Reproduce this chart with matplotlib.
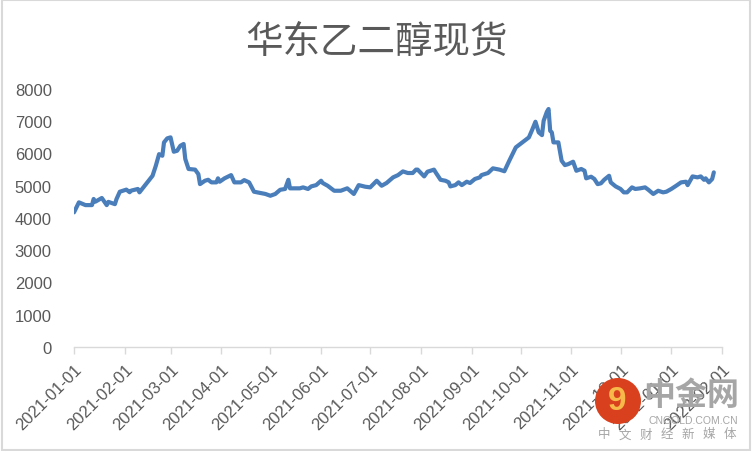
import matplotlib
matplotlib.use("Agg")
import matplotlib.pyplot as plt
import matplotlib.dates as mdates
import numpy as np
import pandas as pd
from matplotlib.patches import Rectangle, Ellipse

plt.rcParams['font.family'] = ['Liberation Sans', 'Noto Sans CJK SC', 'DejaVu Sans']

TITLE = "华东乙二醇现货"

dates = [
    "2021-01-01", "2021-01-04", "2021-01-08", "2021-01-12", "2021-01-13", "2021-01-14",
    "2021-01-18", "2021-01-21", "2021-01-22", "2021-01-26", "2021-01-27", "2021-01-29",
    "2021-02-02", "2021-02-04", "2021-02-05", "2021-02-09", "2021-02-10", "2021-02-18",
    "2021-02-20", "2021-02-22", "2021-02-24", "2021-02-25", "2021-02-27", "2021-03-01",
    "2021-03-03", "2021-03-05", "2021-03-07", "2021-03-09", "2021-03-10", "2021-03-12",
    "2021-03-16", "2021-03-18", "2021-03-19", "2021-03-22", "2021-03-24", "2021-03-26",
    "2021-03-29", "2021-03-30", "2021-03-31", "2021-04-03", "2021-04-07", "2021-04-09",
    "2021-04-13", "2021-04-15", "2021-04-18", "2021-04-21", "2021-04-25", "2021-04-28",
    "2021-05-01", "2021-05-04", "2021-05-07", "2021-05-10", "2021-05-12", "2021-05-13",
    "2021-05-17", "2021-05-19", "2021-05-21", "2021-05-24", "2021-05-26", "2021-05-29",
    "2021-06-01", "2021-06-02", "2021-06-05", "2021-06-09", "2021-06-13", "2021-06-17",
    "2021-06-21", "2021-06-24", "2021-06-28", "2021-07-01", "2021-07-05", "2021-07-08",
    "2021-07-11", "2021-07-15", "2021-07-18", "2021-07-21", "2021-07-24", "2021-07-27",
    "2021-07-29", "2021-07-30", "2021-08-03", "2021-08-05", "2021-08-09", "2021-08-10",
    "2021-08-13", "2021-08-16", "2021-08-18", "2021-08-19", "2021-08-22", "2021-08-24",
    "2021-08-26", "2021-08-29", "2021-08-31", "2021-09-03", "2021-09-06", "2021-09-07",
    "2021-09-11", "2021-09-14", "2021-09-18", "2021-09-21", "2021-09-24", "2021-09-28",
    "2021-10-02", "2021-10-06", "2021-10-08", "2021-10-10", "2021-10-12", "2021-10-14",
    "2021-10-15", "2021-10-17", "2021-10-18", "2021-10-19", "2021-10-20", "2021-10-21",
    "2021-10-24", "2021-10-26", "2021-10-28", "2021-10-30", "2021-11-02", "2021-11-04",
    "2021-11-07", "2021-11-09", "2021-11-10", "2021-11-13", "2021-11-15", "2021-11-17",
    "2021-11-19", "2021-11-21", "2021-11-24", "2021-11-25", "2021-11-28", "2021-12-01",
    "2021-12-03", "2021-12-05", "2021-12-08", "2021-12-10", "2021-12-13", "2021-12-16",
    "2021-12-18", "2021-12-21", "2021-12-24", "2021-12-27", "2021-12-29", "2022-01-01",
    "2022-01-04", "2022-01-07", "2022-01-10", "2022-01-11", "2022-01-14", "2022-01-17",
    "2022-01-19", "2022-01-21", "2022-01-22", "2022-01-24", "2022-01-26", "2022-01-27",
]

prices = [
    4175, 4485, 4400, 4400, 4590, 4505,
    4620, 4400, 4500, 4430, 4590, 4815,
    4880, 4800, 4850, 4900, 4795, 5310,
    5620, 5980, 5930, 6345, 6470, 6500,
    6055, 6085, 6240, 6295, 5830, 5520,
    5500, 5360, 5050, 5155, 5185, 5105,
    5105, 5230, 5125, 5230, 5330, 5105,
    5105, 5175, 5105, 4815, 4775, 4745,
    4690, 4745, 4875, 4900, 5185, 4920,
    4920, 4920, 4950, 4900, 4980, 5020,
    5155, 5085, 5000, 4845, 4845, 4920,
    4745, 5020, 4970, 4950, 5155, 5000,
    5085, 5260, 5330, 5445, 5395, 5395,
    5500, 5500, 5290, 5435, 5500, 5415,
    5185, 5155, 5105, 4980, 5020, 5105,
    5020, 5125, 5085, 5210, 5260, 5330,
    5395, 5540, 5500, 5450, 5775, 6190,
    6345, 6500, 6735, 6985, 6655, 6570,
    7015, 7295, 7380, 6705, 6655, 6345,
    6345, 5775, 5640, 5670, 5745, 5465,
    5520, 5465, 5230, 5280, 5210, 5050,
    5075, 5185, 5310, 5105, 4980, 4900,
    4795, 4795, 4950, 4900, 4920, 4950,
    4875, 4745, 4845, 4795, 4815, 4900,
    5000, 5105, 5125, 5020, 5290, 5260,
    5290, 5185, 5230, 5105, 5210, 5415,
]

y_ticks = [0, 1000, 2000, 3000, 4000, 5000, 6000, 7000, 8000]

# watermark texts
wm_name = "中金网"
wm_url = "CNGOLD.COM.CN"
wm_slogan = list("中文财经新媒体")

LINE_COLOR = '#4A7EBB'
TEXT_COLOR = '#595959'
AXIS_COLOR = '#D9D9D9'
WM_GREY = '#A6A6A6'

W, H = 752, 452

df = pd.DataFrame({'date': pd.to_datetime(dates), 'price': prices})

fig = plt.figure(figsize=(W / 100, H / 100), dpi=100)
ax = fig.add_axes([74 / W, 1 - 348 / H, 648 / W, 258 / H])

ax.plot(df['date'], df['price'], color=LINE_COLOR, linewidth=3.0,
        solid_joinstyle='round', solid_capstyle='round')

ax.set_xlim(pd.Timestamp("2021-01-01"), pd.Timestamp("2022-02-01"))
ax.set_ylim(0, 8000)
ax.set_yticks(y_ticks)
ax.xaxis.set_major_locator(mdates.MonthLocator())
ax.xaxis.set_major_formatter(mdates.DateFormatter('%Y-%m-%d'))

for s in ['top', 'right', 'left']:
    ax.spines[s].set_visible(False)
ax.spines['bottom'].set_color(AXIS_COLOR)
ax.spines['bottom'].set_linewidth(1.0)

ax.tick_params(axis='y', length=0, pad=16, labelsize=12, labelcolor=TEXT_COLOR)
ax.tick_params(axis='x', length=5, width=1.0, color=AXIS_COLOR, pad=5,
               labelsize=12, labelcolor=TEXT_COLOR)
for lab in ax.get_xticklabels():
    lab.set_rotation(45)
    lab.set_ha('right')
    lab.set_va('top')
    lab.set_rotation_mode('anchor')

fig.text(0.5, 1 - 42 / H, TITLE, ha='center', va='center', fontsize=27,
         color=TEXT_COLOR, family=['Noto Sans CJK SC', 'DejaVu Sans'])

# outer border
fig.patches.append(Rectangle((0.002, 0.003), 0.995, 0.994, transform=fig.transFigure,
                             fill=False, edgecolor=AXIS_COLOR, linewidth=1.5))

# watermark
fig.patches.append(Ellipse((618 / W, 1 - 402 / H), 46 / W, 46 / H, transform=fig.transFigure,
                           facecolor='#D9411E', edgecolor='none', zorder=10))
fig.text(617 / W, 1 - 402 / H, "9", ha='center', va='center', fontsize=24,
         fontweight='bold', color='#F6B94A', zorder=11)
fig.text(691 / W, 1 - 396 / H, wm_name, ha='center', va='center', fontsize=23,
         fontweight='bold', color=WM_GREY, zorder=11,
         family=['Noto Sans CJK SC', 'DejaVu Sans'])
fig.text(693 / W, 1 - 421 / H, wm_url, ha='center', va='center', fontsize=7.5,
         color=WM_GREY, zorder=11)
for ch, xp in zip(wm_slogan, np.linspace(604, 730, len(wm_slogan))):
    fig.text(xp / W, 1 - 435 / H, ch, ha='center', va='center', fontsize=9,
             color=WM_GREY, zorder=11, family=['Noto Sans CJK SC', 'DejaVu Sans'])

fig.savefig('out.png', dpi=100)
